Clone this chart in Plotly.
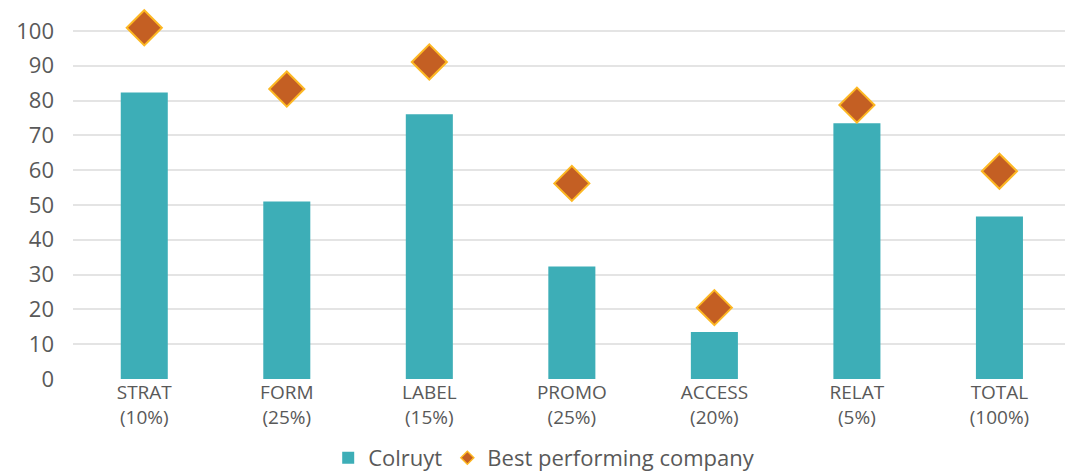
import plotly.graph_objects as go

categories = ["STRAT<br>(10%)", "FORM<br>(25%)", "LABEL<br>(15%)", "PROMO<br>(25%)",
              "ACCESS<br>(20%)", "RELAT<br>(5%)", "TOTAL<br>(100%)"]
colruyt = [82.3, 51.0, 76.1, 32.3, 13.5, 73.5, 46.7]
best = [100.9, 83.3, 91.1, 56.2, 20.5, 78.7, 59.7]
y_ticks = [0, 10, 20, 30, 40, 50, 60, 70, 80, 90, 100]

text_color = "#595959"
font_family = "Open Sans, Noto Sans, sans-serif"
diamond_fill = "#C45F23"
diamond_edge = "#FDB823"

fig = go.Figure()
fig.add_trace(go.Bar(
    x=categories, y=colruyt, name="Colruyt",
    marker=dict(color="#3DAEB7", line=dict(width=0)),
    width=0.33,
))
fig.add_trace(go.Scatter(
    x=categories, y=best, name="Best performing company",
    mode="markers", showlegend=False, legendgroup="best",
    marker=dict(symbol="diamond", size=27, color=diamond_fill,
                line=dict(color=diamond_edge, width=2)),
    cliponaxis=False,
))
# legend entry with the small diamond symbol, as in the reference
fig.add_trace(go.Scatter(
    x=[None], y=[None], name="Best performing company",
    mode="markers", legendgroup="best", showlegend=True,
    marker=dict(symbol="diamond", size=10, color=diamond_fill,
                line=dict(color=diamond_edge, width=1.5)),
))

fig.update_layout(
    width=1065, height=475,
    margin=dict(l=73, r=0, t=24, b=96, autoexpand=False),
    paper_bgcolor="white", plot_bgcolor="white",
    font=dict(family=font_family, color=text_color, size=19),
    showlegend=True,
    legend=dict(orientation="h", x=0.475, xanchor="center",
                yref="container", y=0.036, yanchor="middle",
                font=dict(size=22, color=text_color), itemwidth=30,
                tracegroupgap=0),
    bargap=0.67,
)
fig.update_xaxes(
    range=[-0.5, 6.46], showgrid=False, zeroline=False,
    showline=False, ticks="", tickfont=dict(size=19, color=text_color),
    fixedrange=True, automargin=False,
)
fig.update_yaxes(
    range=[0, 102], tickvals=y_ticks, showgrid=True, gridcolor="#E4E4E4", gridwidth=1.5,
    zeroline=False, showline=False, ticks="", ticklabelstandoff=18,
    tickfont=dict(size=22, color=text_color), automargin=False, fixedrange=True,
)

fig.write_html("out.html", config={"displayModeBar": False},
               post_script="document.body.style.margin='0';document.body.style.overflow='hidden';")
